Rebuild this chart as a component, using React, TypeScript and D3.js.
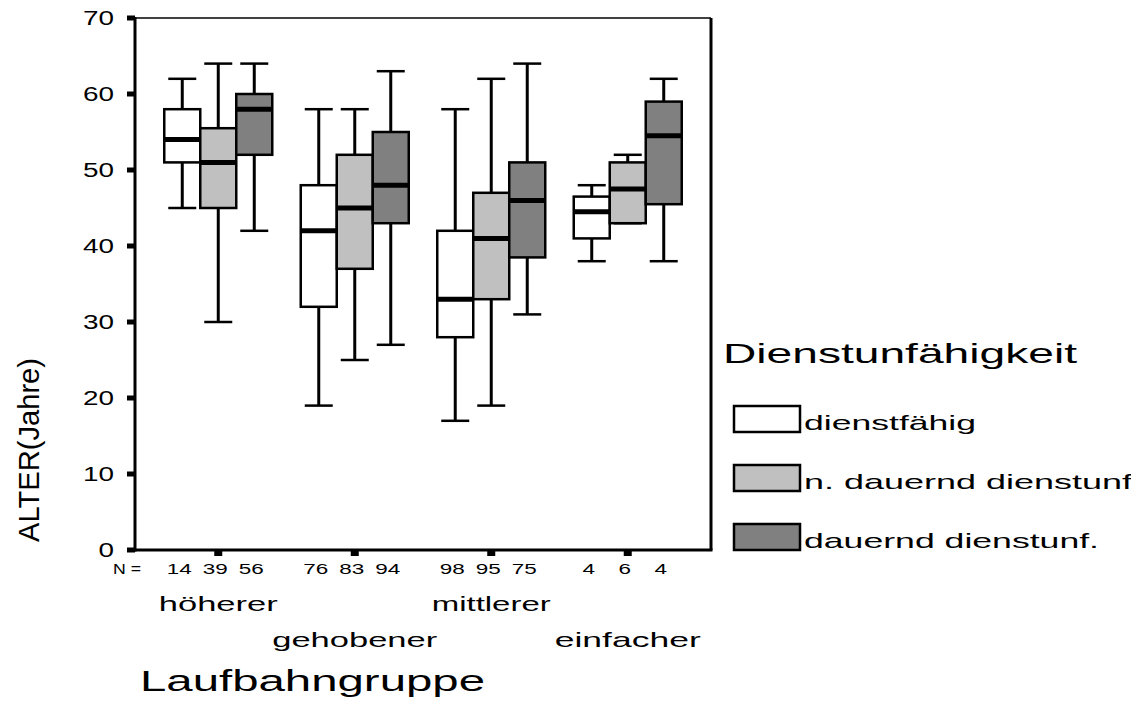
import React, { useEffect, useRef } from 'react';
import * as d3 from 'd3';

const groups = ['höherer', 'gehobener', 'mittlerer', 'einfacher'];
const series = ['dienstfähig', 'n. dauernd dienstunf', 'dauernd dienstunf.'];
const fills = ['#ffffff', '#c0c0c0', '#808080'];
const yTicks = [0, 10, 20, 30, 40, 50, 60, 70];

// one row per group, one entry per series
const counts = [[14, 39, 56], [76, 83, 94], [98, 95, 75], [4, 6, 4]];
const lowWhisker = [[45, 30, 42], [19, 25, 27], [17, 19, 31], [38, 43, 38]];
const q1 = [[51, 45, 52], [32, 37, 43], [28, 33, 38.5], [41, 43, 45.5]];
const medians = [[54, 51, 58], [42, 45, 48], [33, 41, 46], [44.5, 47.5, 54.5]];
const q3 = [[58, 55.5, 60], [48, 52, 55], [42, 47, 51], [46.5, 51, 59]];
const highWhisker = [[62, 64, 64], [58, 58, 63], [58, 62, 64], [48, 52, 62]];

const FONT = '"Liberation Sans", Arial, sans-serif';

// the original output is a stretched Arial, so widths are forced per label
const groupLabelWidth = [119, 165, 119, 146];
const legendLabelWidth = [172, 328, 295];

export default function App() {
  const ref = useRef<SVGSVGElement>(null);

  useEffect(() => {
    const svg = d3.select(ref.current);
    svg.selectAll('*').remove();

    const left = 135, right = 711, top = 18, bottom = 550;

    const x = d3.scalePoint().domain(groups).range([left, right]).padding(0.61);
    const sub = d3.scaleBand().domain(series).range([-54, 54]).padding(0);
    const y = d3.scaleLinear().domain([0, 70]).range([bottom, top]);
    const bw = sub.bandwidth();

    const txt = (xx: number, yy: number, s: string | number, size: number, len: number, anchor = 'start') =>
      svg.append('text').attr('x', xx).attr('y', yy).attr('text-anchor', anchor)
        .attr('font-family', FONT).attr('font-size', size)
        .attr('textLength', len).attr('lengthAdjust', 'spacingAndGlyphs').text(s);

    // frame
    svg.append('line').attr('x1', left).attr('x2', right).attr('y1', top).attr('y2', top)
      .attr('stroke', '#000').attr('stroke-width', 1.5);
    svg.append('line').attr('x1', right).attr('x2', right).attr('y1', top).attr('y2', bottom)
      .attr('stroke', '#000').attr('stroke-width', 3);
    svg.append('line').attr('x1', left).attr('x2', right + 1.5).attr('y1', bottom).attr('y2', bottom)
      .attr('stroke', '#000').attr('stroke-width', 3);
    svg.append('line').attr('x1', left).attr('x2', left).attr('y1', top - 1).attr('y2', bottom + 1.5)
      .attr('stroke', '#000').attr('stroke-width', 3);

    // y ticks
    yTicks.forEach(t => {
      svg.append('rect').attr('x', left - 8).attr('y', y(t) - 2.5).attr('width', 8).attr('height', 5).attr('fill', '#000');
      txt(114, y(t) + 7, t, 20, String(t).length * 15.5, 'end');
    });

    // x ticks
    groups.forEach(g => {
      svg.append('rect').attr('x', x(g)! - 4).attr('y', bottom).attr('width', 8).attr('height', 6).attr('fill', '#000');
    });

    // boxes
    groups.forEach((g, gi) => {
      series.forEach((s, si) => {
        const cx = x(g)! + sub(s)! + bw / 2;
        const cap = 14;
        const grp = svg.append('g');
        const lo = lowWhisker[gi][si], hi = highWhisker[gi][si];
        const a = q1[gi][si], b = q3[gi][si], m = medians[gi][si];
        grp.append('line').attr('x1', cx).attr('x2', cx).attr('y1', y(hi)).attr('y2', y(b))
          .attr('stroke', '#000').attr('stroke-width', 3);
        grp.append('line').attr('x1', cx).attr('x2', cx).attr('y1', y(a)).attr('y2', y(lo))
          .attr('stroke', '#000').attr('stroke-width', 3);
        grp.append('line').attr('x1', cx - cap).attr('x2', cx + cap).attr('y1', y(hi)).attr('y2', y(hi))
          .attr('stroke', '#000').attr('stroke-width', 2.5);
        grp.append('line').attr('x1', cx - cap).attr('x2', cx + cap).attr('y1', y(lo)).attr('y2', y(lo))
          .attr('stroke', '#000').attr('stroke-width', 2.5);
        grp.append('rect').attr('x', cx - bw / 2).attr('y', y(b)).attr('width', bw).attr('height', y(a) - y(b))
          .attr('fill', fills[si]).attr('stroke', '#000').attr('stroke-width', 2.5);
        grp.append('line').attr('x1', cx - bw / 2).attr('x2', cx + bw / 2).attr('y1', y(m)).attr('y2', y(m))
          .attr('stroke', '#000').attr('stroke-width', 5);
        const n = counts[gi][si];
        txt(cx - 3, 574, n, 15.5, String(n).length * 12.5, 'middle');
      });
      txt(x(g)!, gi % 2 === 0 ? 611 : 647, g, 21, groupLabelWidth[gi], 'middle');
    });

    txt(113, 574, 'N =', 15.5, 28);

    // axis titles
    txt(140, 691, 'Laufbahngruppe', 29, 345);
    svg.append('text').attr('transform', 'translate(39,450) rotate(-90)').attr('text-anchor', 'middle')
      .attr('font-family', FONT).attr('font-size', 30)
      .attr('textLength', 184).attr('lengthAdjust', 'spacingAndGlyphs').text('ALTER(Jahre)');

    // legend
    txt(723, 363, 'Dienstunfähigkeit', 28, 354);
    series.forEach((s, i) => {
      const ly = 406 + i * 59;
      svg.append('rect').attr('x', 734).attr('y', ly).attr('width', 66).attr('height', 26)
        .attr('fill', fills[i]).attr('stroke', '#000').attr('stroke-width', 2.5);
      txt(804, ly + 24, s, 21, legendLabelWidth[i]);
    });
  }, []);

  return (
    <svg ref={ref} width={1131} height={718}
      style={{ position: 'absolute', left: 0, top: 0, background: '#fff' }} />
  );
}
